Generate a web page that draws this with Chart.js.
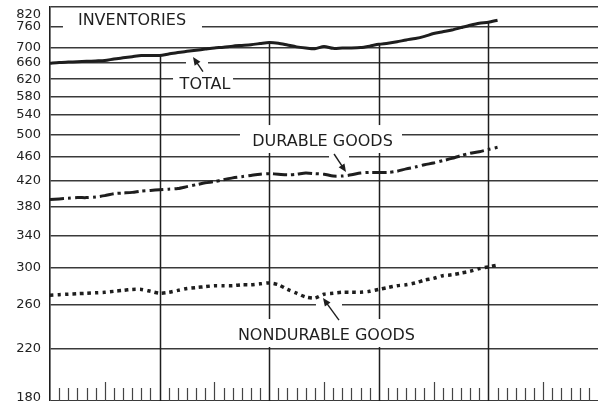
<!DOCTYPE html>
<html>
<head>
<meta charset="utf-8">
<script src="https://cdn.jsdelivr.net/npm/chart.js@4.4.1/dist/chart.umd.min.js"></script>
<style>
  body { margin: 0; background: #fff; overflow: hidden; }
  #wrap { position: relative; width: 598px; height: 407px; }
</style>
</head>
<body>
<div id="wrap"><canvas id="invChart"></canvas></div>
<script>
// ratio scale tick values
const yTicks = [180, 220, 260, 300, 340, 380, 420, 460, 500, 540, 580, 620, 660, 700, 760, 820];

// monthly values, month 0 .. 49
const total = [659, 661, 662, 663, 664, 665, 666, 670, 673, 676, 679, 679, 679, 683, 687, 690, 693, 696, 699, 701,
               704, 706, 708, 711, 714, 712, 707, 702, 699, 697, 703, 698, 699, 699, 700, 704, 709, 712, 716, 721,
               725, 731, 739, 744, 749, 756, 763, 769, 772, 778];
const durable = [390, 391, 392, 393, 393, 394, 396, 399, 400, 401, 403, 404, 405, 406, 407, 410, 413, 416, 418, 421,
                 424, 426, 428, 430, 431, 430, 429, 430, 432, 431, 430, 427, 427, 429, 432, 433, 433, 433, 435, 439,
                 442, 446, 449, 453, 457, 462, 466, 469, 473, 477];
const nondurable = [270, 270.5, 271, 271.5, 272, 272.5, 273, 274, 275, 276, 276, 274, 272, 273, 275, 277, 278, 279, 280, 280,
                    280, 281, 281, 282, 283, 281, 276, 272, 268, 267, 271, 272, 273, 273, 273, 274, 276, 278, 280, 281,
                    283, 286, 288, 291, 292, 294, 296, 299, 301, 303];

const yearLines = [12, 24, 36, 48];
const midYears = [6, 18, 30, 42, 54];
const lastMonth = 60;

// text labels in data units: [month, value]; box = [m0, m1, vTop, vBottom]
const notes = [
  { text: 'INVENTORIES', at: [8.98, 778.5], box: [1.42, 16.64, 812, 737.7] },
  { text: 'TOTAL', at: [16.97, 608.5], box: [13.47, 20.04, 637, 587.8] },
  { text: 'DURABLE GOODS', at: [29.84, 489.6], box: [20.8, 38.54, 519.6, 466.6] },
  { text: 'NONDURABLE GOODS', at: [30.27, 231.6], box: [19.49, 41.06, 246.3, 221.1] }
];
// arrows: tail -> tip, plus small gap cut into the grid line they cross
const arrows = [
  { from: [16.75, 638], to: [15.66, 675], gap: [14.89, 17.3, 670, 647] },
  { from: [31.1, 464.8], to: [32.41, 433.7], gap: [30.55, 32.74, 468.4, 449] },
  { from: [31.64, 245.3], to: [29.89, 267], gap: [29.12, 31.97, 264.9, 253.9] }
];

const ink = '#1e1e1e';
const tickFont = '13px "DejaVu Sans"';
const yMin = yTicks[0], yMax = yTicks[yTicks.length - 1];

const overlay = {
  id: 'overlay',
  beforeDatasetsDraw(chart) {
    const { ctx, chartArea, scales: { x, y } } = chart;
    const px = m => x.getPixelForValue(m);
    const py = v => y.getPixelForValue(v);
    ctx.save();

    // year lines run from the total curve down to the bottom
    ctx.strokeStyle = ink;
    ctx.lineWidth = 1.5;
    yearLines.forEach(m => {
      const xx = Math.round(px(m)) + 0.5;
      ctx.beginPath();
      ctx.moveTo(xx, py(total[m]));
      ctx.lineTo(xx, chart.height);
      ctx.stroke();
    });

    // monthly ticks along the bottom
    ctx.strokeStyle = '#444';
    ctx.lineWidth = 1.2;
    for (let m = 1; m < lastMonth; m++) {
      if (yearLines.includes(m)) continue;
      const xx = Math.round(px(m)) + 0.5;
      const top = chartArea.bottom - (midYears.includes(m) ? 18.5 : 12.5);
      ctx.beginPath();
      ctx.moveTo(xx, top);
      ctx.lineTo(xx, chart.height);
      ctx.stroke();
    }

    // white boxes behind labels and arrows
    ctx.fillStyle = '#fff';
    const clear = b => ctx.fillRect(px(b[0]), py(b[2]), px(b[1]) - px(b[0]), py(b[3]) - py(b[2]));
    notes.forEach(n => clear(n.box));
    arrows.forEach(a => clear(a.gap));

    ctx.fillStyle = ink;
    ctx.font = '16px "DejaVu Sans"';
    ctx.textAlign = 'center';
    ctx.textBaseline = 'middle';
    notes.forEach(n => ctx.fillText(n.text, px(n.at[0]), py(n.at[1]) + 1));

    // end labels of the value axis sit just inside the frame
    ctx.fillStyle = '#222';
    ctx.font = tickFont;
    ctx.textAlign = 'right';
    ctx.fillText(String(yMax), y.right - 9, py(yMax) + 8);
    ctx.fillText(String(yMin), y.right - 9, py(yMin) - 3);

    ctx.strokeStyle = ink;
    ctx.fillStyle = ink;
    ctx.lineWidth = 1.4;
    arrows.forEach(a => {
      const x0 = px(a.from[0]), y0 = py(a.from[1]);
      const x1 = px(a.to[0]), y1 = py(a.to[1]);
      const ang = Math.atan2(y1 - y0, x1 - x0);
      ctx.beginPath();
      ctx.moveTo(x0, y0);
      ctx.lineTo(x1 - 4 * Math.cos(ang), y1 - 4 * Math.sin(ang));
      ctx.stroke();
      ctx.beginPath();
      ctx.moveTo(x1, y1);
      ctx.lineTo(x1 - 8 * Math.cos(ang) + 3.5 * Math.sin(ang), y1 - 8 * Math.sin(ang) - 3.5 * Math.cos(ang));
      ctx.lineTo(x1 - 8 * Math.cos(ang) - 3.5 * Math.sin(ang), y1 - 8 * Math.sin(ang) + 3.5 * Math.cos(ang));
      ctx.closePath();
      ctx.fill();
    });
    ctx.restore();
  }
};

function series(values, dash, width) {
  return {
    data: values.map((v, i) => ({ x: i, y: v })),
    borderColor: ink,
    borderWidth: width,
    borderDash: dash,
    borderCapStyle: 'butt',
    pointRadius: 0,
    tension: 0.25,
    fill: false
  };
}

new Chart(document.getElementById('invChart'), {
  type: 'line',
  data: {
    datasets: [
      series(total, [], 3),
      series(durable, [14, 4, 3, 4], 3),
      series(nondurable, [3.5, 4], 3.5)
    ]
  },
  options: {
    responsive: true,
    maintainAspectRatio: false,
    animation: false,
    events: [],
    layout: { padding: 0 },
    plugins: { legend: { display: false }, tooltip: { enabled: false } },
    scales: {
      x: { type: 'linear', min: 0, max: lastMonth, display: false },
      y: {
        type: 'logarithmic',
        min: yMin,
        max: yMax,
        afterBuildTicks: scale => { scale.ticks = yTicks.map(v => ({ value: v })); },
        afterFit: scale => { scale.width = 50; },
        grid: { color: '#3a3a3a', lineWidth: 1.4, drawTicks: true, tickLength: 9, tickColor: 'rgba(0,0,0,0)' },
        border: { display: true, color: ink, width: 1.6 },
        ticks: {
          color: '#222',
          padding: 0,
          font: { family: '"DejaVu Sans"', size: 13, lineHeight: 1 },
          callback: v => (v === yMin || v === yMax) ? '' : String(v)
        }
      }
    }
  },
  plugins: [overlay]
});
</script>
</body>
</html>
